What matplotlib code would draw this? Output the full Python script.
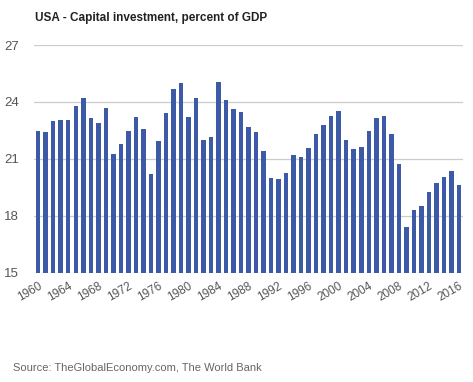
import matplotlib
matplotlib.use("Agg")
import matplotlib.pyplot as plt
import numpy as np

years = list(range(1960, 2017))
invest = [22.46, 22.40, 23.00, 23.07, 23.04, 23.81, 24.19, 23.18, 22.89, 23.70,
          21.28, 21.81, 22.46, 23.23, 22.60, 20.18, 21.93, 23.44, 24.68, 25.00,
          23.23, 24.21, 22.02, 22.16, 25.04, 24.11, 23.61, 23.47, 22.68, 22.40,
          21.42, 20.02, 19.96, 20.26, 21.18, 21.12, 21.58, 22.30, 22.79, 23.28,
          23.53, 22.02, 21.53, 21.61, 22.46, 23.18, 23.26, 22.30, 20.75, 17.42,
          18.33, 18.51, 19.28, 19.74, 20.07, 20.35, 19.63]
yticks = [15, 18, 21, 24, 27]
title = "USA - Capital investment, percent of GDP"
source = "Source: TheGlobalEconomy.com, The World Bank"

plt.rcParams['font.family'] = ['Liberation Sans', 'DejaVu Sans']

fig = plt.figure(figsize=(4.73, 3.82), dpi=100)
ax = fig.add_axes([0.072, 0.286, 0.907, 0.596])

x = np.arange(len(years))
ax.bar(x, invest, width=0.6, color="#3c5aa6", zorder=3)

ax.set_ylim(15, 27)
ax.set_xlim(-0.55, len(years) - 0.45)
ax.set_yticks(yticks)
ax.set_yticklabels([str(t) for t in yticks], fontsize=9.5, color="#555555")
ax.yaxis.grid(True, color="#cccccc", linewidth=0.9, zorder=0)
ax.tick_params(axis="y", length=0, pad=11)

tick_idx = x[::4]
ax.set_xticks(tick_idx)
ax.set_xticklabels([str(years[i]) for i in tick_idx], rotation=30, ha="right",
                   rotation_mode="anchor", fontsize=8.5, color="#555555")
ax.tick_params(axis="x", length=0, pad=5)

for s in ax.spines.values():
    s.set_visible(False)

fig.text(0.074, 0.953, title, fontsize=8.5, fontweight="bold", color="#222222",
         va="center", ha="left")
fig.text(0.027, 0.037, source, fontsize=8, color="#666666", va="center", ha="left")

fig.savefig("out.png", dpi=100)
